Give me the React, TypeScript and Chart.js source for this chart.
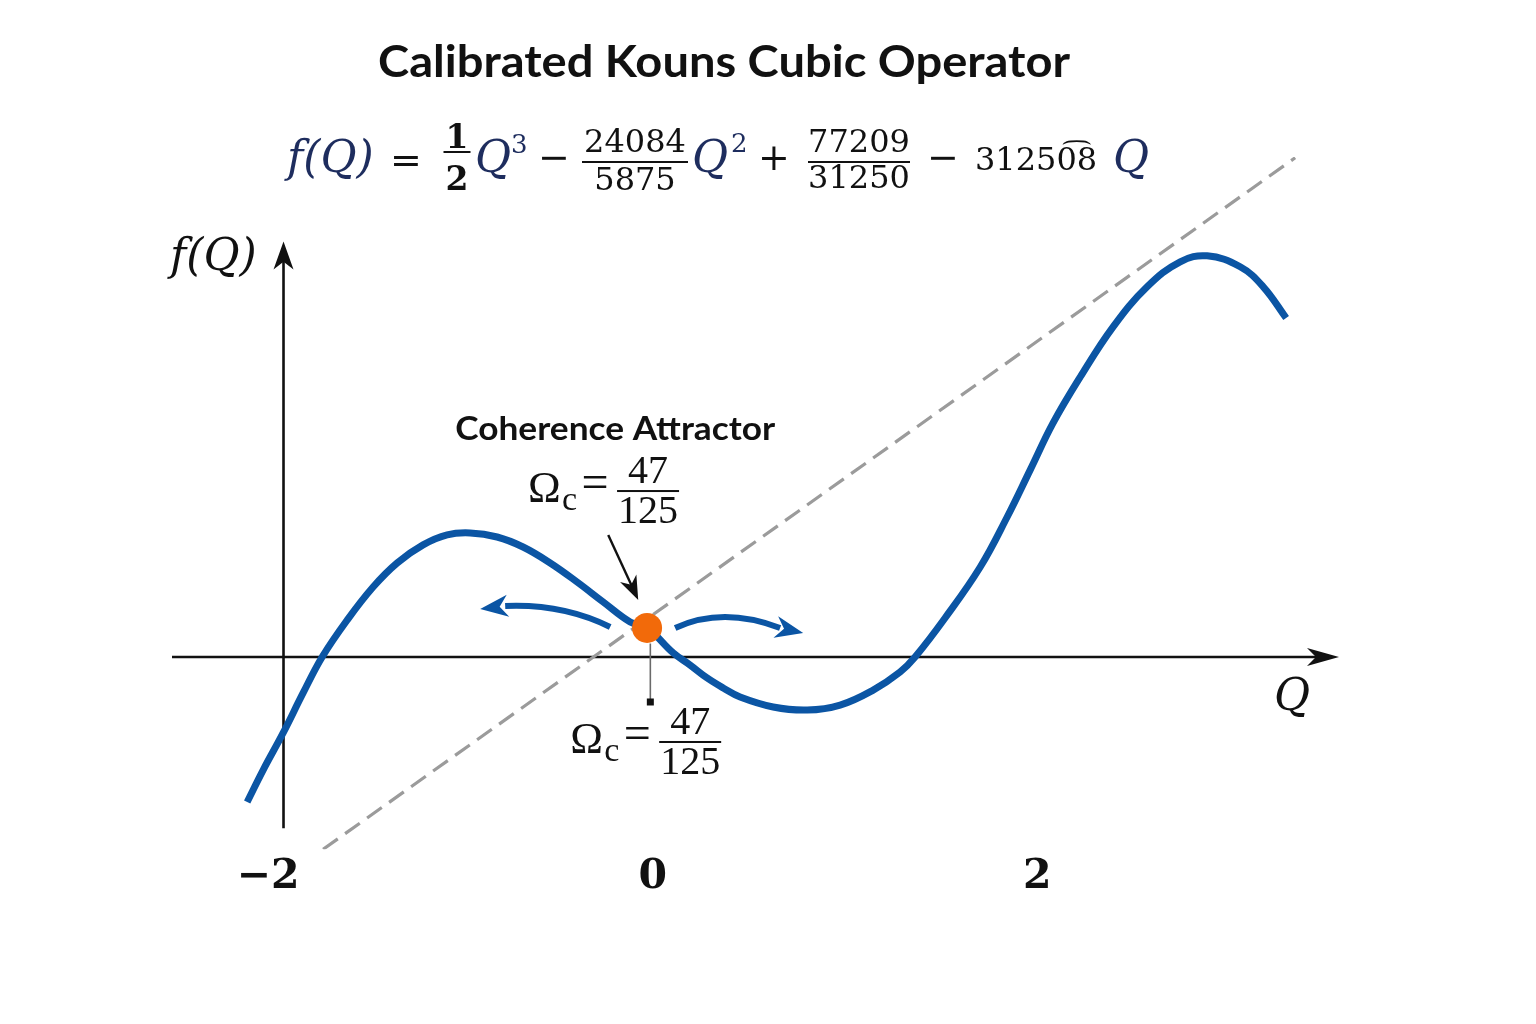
import React, { useEffect, useRef } from "react";
import { Chart, registerables } from "chart.js";

Chart.register(...registerables);

// ---------- text ----------
const titleText = "Calibrated Kouns Cubic Operator";
const yAxisName = "f(Q)";
const xAxisName = "Q";
const attractorCaption = "Coherence Attractor";
const omegaSymbol = "Ω";
const omegaSub = "c";
const omegaNum = "47";
const omegaDen = "125";
const formulaLhs = "f(Q)";
const formulaVar = "Q";
const coef1 = ["1", "2"];
const coef2 = ["24084", "5875"];
const coef3 = ["77209", "31250"];
const formulaTail = "31250\u03618";

// ---------- data ----------
const curveQ = [-2.109, -2.026, -1.922, -1.818, -1.719, -1.589, -1.454, -1.329, -1.194, -1.069, -0.949, -0.809, -0.674, -0.533, -0.393, -0.257, -0.117, -0.029, 0.107, 0.195, 0.283, 0.367, 0.455, 0.627, 0.804, 0.975, 1.147, 1.287, 1.365, 1.521, 1.704, 1.844, 1.964, 2.083, 2.224, 2.395, 2.572, 2.744, 2.884, 3.056, 3.176, 3.295];
const curveF = [-0.754, -0.588, -0.395, -0.187, 0, 0.192, 0.364, 0.489, 0.583, 0.635, 0.645, 0.624, 0.572, 0.489, 0.39, 0.286, 0.182, 0.151, 0.021, -0.042, -0.109, -0.161, -0.208, -0.26, -0.276, -0.25, -0.172, -0.078, 0, 0.203, 0.468, 0.728, 0.973, 1.217, 1.456, 1.717, 1.925, 2.055, 2.086, 2.029, 1.925, 1.763];
const identityQ = [-1.714, 3.342];
const identityF = [-1.0, 2.596];
const attractorQ = [-0.029];
const attractorF = [0.151];
const tickValues = [-2, 0, 2];
const tickLabels = ["\u22122", "0", "2"];
const qRange = [-2.5, 3.57];
const fRange = [-1.0, 2.6];

// annotation anchors (data units)
const yAxisAtQ = -1.92;
const yAxisSpanF = [-0.89, 2.16];
const stemQ = -0.012;
const stemSpanF = [0.07, -0.234];
const pointerFrom = [-0.231, 0.635];
const pointerTo = [-0.075, 0.296];
const leftFlow = [[-0.221, 0.156], [-0.468, 0.278], [-0.767, 0.265], [-0.897, 0.25]];
const rightFlow = [[0.117, 0.151], [0.364, 0.265], [0.663, 0.151], [0.783, 0.125]];
const captionAt = [-0.195, 1.129];
const upperOmegaAt = [-0.648, 0.863];
const lowerOmegaAt = [-0.429, -0.442];

const BLUE = "#0b55a4";
const ORANGE = "#f26a0a";
const GRAY = "#9b9b9b";
const NAVY = "#1e2d5e";
const INK = "#111111";

type Pt = { x: number; y: number };

function arrowHead(ctx: CanvasRenderingContext2D, from: Pt, tip: Pt, len: number, half: number, notch: number) {
  const dx = tip.x - from.x;
  const dy = tip.y - from.y;
  const d = Math.hypot(dx, dy) || 1;
  const ux = dx / d;
  const uy = dy / d;
  const bx = tip.x - ux * len;
  const by = tip.y - uy * len;
  const px = -uy;
  const py = ux;
  ctx.beginPath();
  ctx.moveTo(tip.x, tip.y);
  ctx.lineTo(bx + px * half, by + py * half);
  ctx.lineTo(tip.x - ux * len * notch, tip.y - uy * len * notch);
  ctx.lineTo(bx - px * half, by - py * half);
  ctx.closePath();
  ctx.fill();
}

function text(ctx: CanvasRenderingContext2D, s: string, x: number, y: number, font: string, color: string, align: CanvasTextAlign) {
  ctx.font = font;
  ctx.fillStyle = color;
  ctx.textAlign = align;
  ctx.textBaseline = "alphabetic";
  ctx.fillText(s, x, y);
}

function fitText(ctx: CanvasRenderingContext2D, s: string, cx: number, y: number, font: string, color: string, targetW: number) {
  ctx.save();
  ctx.font = font;
  ctx.fillStyle = color;
  ctx.textAlign = "center";
  ctx.textBaseline = "alphabetic";
  const w = ctx.measureText(s).width || 1;
  const k = targetW / w;
  ctx.translate(cx, y);
  ctx.scale(k, 1);
  ctx.fillText(s, 0, 0);
  ctx.restore();
}

function fraction(ctx: CanvasRenderingContext2D, num: string, den: string, cx: number, barY: number, halfW: number, font: string, color: string, numOff: number, denOff: number) {
  text(ctx, num, cx, barY + numOff, font, color, "center");
  text(ctx, den, cx, barY + denOff, font, color, "center");
  ctx.fillStyle = color;
  ctx.fillRect(cx - halfW, barY - 1, halfW * 2, 2);
}

function omegaLabel(ctx: CanvasRenderingContext2D, x0: number, barY: number) {
  text(ctx, omegaSymbol, x0, barY + 11, "44px 'Liberation Serif'", INK, "left");
  text(ctx, omegaSub, x0 + 34, barY + 19, "34px 'Liberation Serif'", INK, "left");
  text(ctx, "=", x0 + 67, barY + 7, "48px 'Liberation Serif'", INK, "center");
  fraction(ctx, omegaNum, omegaDen, x0 + 120, barY, 31, "40px 'Liberation Serif'", INK, -8, 32);
}

const axesPlugin = {
  id: "drawnAxes",
  beforeDatasetsDraw(chart: any) {
    const { ctx, chartArea, scales } = chart;
    const xs = scales.x;
    const ys = scales.y;
    ctx.save();
    ctx.strokeStyle = INK;
    ctx.fillStyle = INK;
    ctx.lineWidth = 2.6;
    const y0 = ys.getPixelForValue(0);
    ctx.beginPath();
    ctx.moveTo(chartArea.left, y0);
    ctx.lineTo(chartArea.right - 20, y0);
    ctx.stroke();
    arrowHead(ctx, { x: chartArea.left, y: y0 }, { x: chartArea.right, y: y0 }, 32, 9, 0.72);
    const xa = xs.getPixelForValue(yAxisAtQ);
    const yb = ys.getPixelForValue(yAxisSpanF[0]);
    const yt = ys.getPixelForValue(yAxisSpanF[1]);
    ctx.beginPath();
    ctx.moveTo(xa, yb);
    ctx.lineTo(xa, yt + 18);
    ctx.stroke();
    arrowHead(ctx, { x: xa, y: yb }, { x: xa, y: yt }, 28, 10, 0.72);
    ctx.restore();
  },
};

const annotationPlugin = {
  id: "annotations",
  afterDatasetsDraw(chart: any) {
    const { ctx, scales } = chart;
    const xs = scales.x;
    const ys = scales.y;
    const P = (q: number, f: number): Pt => ({ x: xs.getPixelForValue(q), y: ys.getPixelForValue(f) });
    ctx.save();

    // stem below attractor
    const s1 = P(stemQ, stemSpanF[0]);
    const s2 = P(stemQ, stemSpanF[1]);
    ctx.strokeStyle = "#6a6a6a";
    ctx.lineWidth = 1.6;
    ctx.beginPath();
    ctx.moveTo(s1.x, s1.y);
    ctx.lineTo(s2.x, s2.y);
    ctx.stroke();
    ctx.fillStyle = INK;
    ctx.fillRect(s2.x - 3.5, s2.y - 3.5, 7, 7);

    // black pointer
    const a = P(pointerFrom[0], pointerFrom[1]);
    const b = P(pointerTo[0], pointerTo[1]);
    const dx = b.x - a.x, dy = b.y - a.y, dl = Math.hypot(dx, dy);
    ctx.strokeStyle = INK;
    ctx.lineWidth = 2.4;
    ctx.beginPath();
    ctx.moveTo(a.x, a.y);
    ctx.lineTo(b.x - (dx / dl) * 14, b.y - (dy / dl) * 14);
    ctx.stroke();
    arrowHead(ctx, a, b, 24, 9, 0.7);

    // blue flow arrows
    for (const flow of [leftFlow, rightFlow]) {
      const [s, c, e, t] = flow.map((p) => P(p[0], p[1]));
      ctx.strokeStyle = BLUE;
      ctx.fillStyle = BLUE;
      ctx.lineWidth = 6;
      ctx.lineCap = "butt";
      ctx.beginPath();
      ctx.moveTo(s.x, s.y);
      ctx.quadraticCurveTo(c.x, c.y, e.x, e.y);
      ctx.stroke();
      arrowHead(ctx, e, t, 28, 11, 0.7);
    }

    // caption + omega labels
    const cap = P(captionAt[0], captionAt[1]);
    fitText(ctx, attractorCaption, cap.x, cap.y, "bold 32px Lato", INK, 320);
    const u = P(upperOmegaAt[0], upperOmegaAt[1]);
    omegaLabel(ctx, u.x, u.y);
    const l = P(lowerOmegaAt[0], lowerOmegaAt[1]);
    omegaLabel(ctx, l.x, l.y);
    ctx.restore();
  },
  afterDraw(chart: any) {
    const { ctx } = chart;
    ctx.save();
    // title
    fitText(ctx, titleText, 724, 77, "bold 44px Lato", INK, 692);

    // formula
    const ital = "italic 44px 'DejaVu Serif'";
    const num = "32px 'DejaVu Serif'";
    const op = "38px 'DejaVu Serif'";
    text(ctx, formulaLhs, 287, 172, ital, NAVY, "left");
    text(ctx, "=", 406, 173, op, INK, "center");
    fraction(ctx, coef1[0], coef1[1], 457, 152, 13.5, "bold 33px 'DejaVu Serif'", INK, -4, 38);
    text(ctx, formulaVar, 475, 172, ital, NAVY, "left");
    text(ctx, "3", 511, 153, "26px 'DejaVu Serif'", NAVY, "left");
    text(ctx, "\u2212", 554, 170, op, INK, "center");
    fraction(ctx, coef2[0], coef2[1], 635, 162, 53, num, INK, -10, 28);
    text(ctx, formulaVar, 692, 172, ital, NAVY, "left");
    text(ctx, "2", 731, 152, "26px 'DejaVu Serif'", NAVY, "left");
    text(ctx, "+", 774, 170, op, INK, "center");
    fraction(ctx, coef3[0], coef3[1], 859, 162, 51, num, INK, -10, 26);
    text(ctx, "\u2212", 943, 170, op, INK, "center");
    text(ctx, formulaTail, 975, 170, num, INK, "left");
    text(ctx, formulaVar, 1113, 172, ital, NAVY, "left");

    // axis names
    text(ctx, yAxisName, 170, 270, ital, INK, "left");
    text(ctx, xAxisName, 1274, 710, ital, INK, "left");
    ctx.restore();
  },
};

export default function App() {
  const ref = useRef<HTMLCanvasElement | null>(null);

  useEffect(() => {
    document.body.style.margin = "0";
    const canvas = ref.current;
    if (!canvas) return;
    const chart = new Chart(canvas, {
      type: "line",
      data: {
        datasets: [
          {
            label: "attractor",
            data: attractorQ.map((q, i) => ({ x: q, y: attractorF[i] })),
            showLine: false,
            pointRadius: 15,
            pointBackgroundColor: ORANGE,
            pointBorderWidth: 0,
            order: 0,
          },
          {
            label: "f(Q)",
            data: curveQ.map((q, i) => ({ x: q, y: curveF[i] })),
            borderColor: BLUE,
            borderWidth: 7,
            pointRadius: 0,
            tension: 0.4,
            fill: false,
            borderCapStyle: "butt",
            borderJoinStyle: "round",
            order: 1,
          },
          {
            label: "identity",
            data: identityQ.map((q, i) => ({ x: q, y: identityF[i] })),
            borderColor: GRAY,
            borderWidth: 3.2,
            borderDash: [18, 9],
            pointRadius: 0,
            fill: false,
            order: 2,
          },
        ],
      },
      options: {
        responsive: false,
        maintainAspectRatio: false,
        animation: false,
        events: [],
        layout: { padding: { left: 172, right: 197, top: 157, bottom: 119.5 } },
        plugins: {
          legend: { display: false },
          tooltip: { enabled: false },
          title: { display: false },
        },
        scales: {
          x: {
            type: "linear",
            min: qRange[0],
            max: qRange[1],
            grid: { display: false, drawTicks: false },
            border: { display: false },
            afterBuildTicks: (scale: any) => {
              scale.ticks = tickValues.map((v) => ({ value: v }));
            },
            ticks: {
              padding: 3,
              autoSkip: false,
              maxRotation: 0,
              color: INK,
              font: { family: "'DejaVu Serif'", weight: "bold", size: 41 },
              callback: (_v: any, i: number) => tickLabels[i],
            },
          },
          y: {
            type: "linear",
            display: false,
            min: fRange[0],
            max: fRange[1],
          },
        },
      },
      plugins: [axesPlugin, annotationPlugin],
    } as any);
    return () => chart.destroy();
  }, []);

  return (
    <div style={{ width: 1536, height: 1024, background: "#ffffff" }}>
      <canvas ref={ref} width={1536} height={1024} style={{ display: "block", width: 1536, height: 1024 }} />
    </div>
  );
}
